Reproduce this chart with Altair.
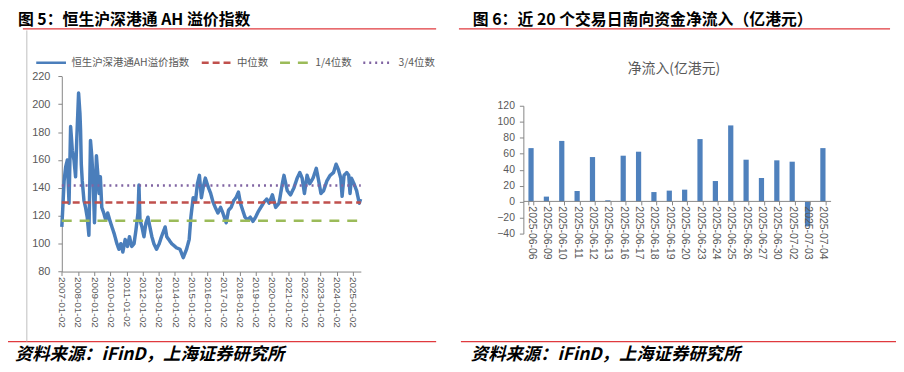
import altair as alt
import pandas as pd

# ---------------- data ----------------
line_name = "恒生沪深港通AH溢价指数"
ah_dates = [
    "2007-01-02", "2007-01-28", "2007-02-23", "2007-03-30", "2007-05-07", "2007-06-14",
    "2007-07-20", "2007-08-27", "2007-10-04", "2007-11-09", "2007-12-06", "2008-01-16",
    "2008-02-16", "2008-03-01", "2008-03-17", "2008-04-08", "2008-05-16", "2008-06-21",
    "2008-07-29", "2008-09-05", "2008-10-11", "2008-11-11", "2008-12-10", "2009-01-09",
    "2009-02-22", "2009-03-25", "2009-04-23", "2009-05-22", "2009-06-23", "2009-08-06",
    "2009-09-20", "2009-11-04", "2009-12-19", "2010-02-08", "2010-04-01", "2010-05-31",
    "2010-07-15", "2010-08-28", "2010-10-12", "2010-12-03", "2011-01-26", "2011-03-11",
    "2011-05-01", "2011-06-22", "2011-08-05", "2011-09-19", "2011-10-11", "2011-11-03",
    "2011-12-18", "2012-02-01", "2012-03-17", "2012-05-01", "2012-06-14", "2012-07-29",
    "2012-09-12", "2012-11-11", "2013-01-11", "2013-03-03", "2013-05-25", "2013-06-30",
    "2013-10-19", "2014-02-08", "2014-04-25", "2014-07-08", "2014-09-20", "2014-11-19",
    "2014-12-27", "2015-02-17", "2015-04-09", "2015-05-24", "2015-07-08", "2015-08-22",
    "2015-10-05", "2015-11-19", "2016-01-18", "2016-03-19", "2016-05-09", "2016-06-30",
    "2016-08-29", "2016-10-28", "2016-12-19", "2017-03-04", "2017-04-26", "2017-06-23",
    "2017-08-23", "2017-10-13", "2017-12-06", "2018-01-20", "2018-03-12", "2018-05-03",
    "2018-07-02", "2018-08-31", "2018-10-29", "2018-12-28", "2019-02-26", "2019-04-25",
    "2019-07-11", "2019-09-07", "2019-10-30", "2020-01-12", "2020-03-26", "2020-06-10",
    "2020-08-23", "2020-09-30", "2020-12-13", "2021-02-25", "2021-05-12", "2021-07-25",
    "2021-09-23", "2021-11-14", "2022-01-05", "2022-03-06", "2022-05-05", "2022-07-18",
    "2022-09-30", "2022-11-23", "2023-01-13", "2023-03-14", "2023-05-27", "2023-08-09",
    "2023-10-24", "2023-12-21", "2024-02-13", "2024-04-05", "2024-05-05", "2024-06-18",
    "2024-08-18", "2024-10-02", "2024-10-31", "2024-12-01", "2025-01-28", "2025-03-29",
    "2025-05-28", "2025-06-27",
]
ah_values = [
    112, 128, 145, 155, 160, 129,
    184, 167, 160, 148, 175, 208,
    193, 181, 157, 145, 131, 126,
    119, 106, 174, 162, 145, 115,
    163, 150, 136, 148, 126, 122,
    117, 122, 117, 112, 107, 100,
    96, 100, 94, 103, 98, 105,
    98, 100, 110, 122, 142, 117,
    112, 105, 115, 119, 112, 105,
    100, 96, 100, 105, 112, 105,
    100, 97, 96, 90, 96, 103,
    119, 133, 130, 143, 149, 133,
    141, 147, 141, 136, 130, 126,
    122, 126, 122, 115, 124, 126,
    131, 133, 137, 129, 124, 119,
    117, 119, 116, 119, 123, 126,
    130, 132, 129, 135, 126, 129,
    143, 149, 138, 135, 140, 147,
    151, 147, 136, 149, 143, 147,
    154, 145, 136, 138, 145, 149,
    151, 157, 153, 147, 134, 149,
    151, 149, 136, 147, 143, 138,
    129, 132,
]
q_names = ["中位数", "1/4位数", "3/4位数"]
q_values = [129.5, 116.5, 141.7]
year_ticks = list(range(2007, 2026))
left_y_ticks = [80, 100, 120, 140, 160, 180, 200, 220]

flow_dates = [
    "2025-06-06", "2025-06-09", "2025-06-10", "2025-06-11", "2025-06-12",
    "2025-06-13", "2025-06-16", "2025-06-17", "2025-06-18", "2025-06-19",
    "2025-06-20", "2025-06-23", "2025-06-24", "2025-06-25", "2025-06-26",
    "2025-06-27", "2025-06-30", "2025-07-02", "2025-07-03", "2025-07-04",
]
flow_values = [67, 6.3, 76, 13.3, 55.8, 1.7, 57.5, 62.5, 12, 13.8,
               15, 78.3, 25.8, 95.4, 52.5, 29.6, 51.7, 50, -31, 67]
right_y_ticks = [-40, -20, 0, 20, 40, 60, 80, 100, 120]

title_left = "图 5：恒生沪深港通 AH 溢价指数"
title_right = "图 6：近 20 个交易日南向资金净流入（亿港元）"
sub_right = "净流入(亿港元)"
source_text = "资料来源：iFinD，上海证券研究所"

# ---------------- style ----------------
W, H = 896, 364
CJK = "Noto Sans CJK SC"
LAT = "Liberation Sans"
LBL = "#595959"
AXC = "#868686"
RED = "#E03A3E"
series_order = [line_name] + q_names
colors = ["#4A7EBB", "#C0504D", "#9BBB59", "#8064A2"]
dashes = [[1, 0], [7, 4], [10, 8], [2, 4]]

ah_df = pd.DataFrame({"date": ah_dates, "value": ah_values, "series": line_name})
q_df = pd.DataFrame({"series": q_names, "value": q_values,
                     "start": "2007-01-02", "end": "2025-07-01"})
flow_df = pd.DataFrame({"day": flow_dates, "flow": flow_values})

legend = alt.Legend(title=None, orient="none", legendX=27, legendY=37,
                    direction="horizontal", symbolType="stroke", symbolSize=900,
                    symbolStrokeWidth=2.5, labelFont=CJK, labelFontSize=10.5,
                    labelColor=LBL, labelOffset=4, columnPadding=6, padding=0)
color_enc = alt.Color("series:N", scale=alt.Scale(domain=series_order, range=colors),
                      legend=legend)
dash_enc = alt.StrokeDash("series:N", scale=alt.Scale(domain=series_order, range=dashes),
                          legend=legend)

x_left = alt.X(
    "date:T",
    scale=alt.Scale(type="utc",
                    domain=[alt.DateTime(year=2007, month=1, date=2, utc=True),
                            alt.DateTime(year=2025, month=7, date=2, utc=True)],
                    range=[54.3, 356]),
    axis=alt.Axis(orient="bottom", offset=264.3 - H, title=None,
                  values=[alt.DateTime(year=y, month=1, date=2, utc=True) for y in year_ticks],
                  labelExpr="utcFormat(datum.value, '%Y-%m-%d')",
                  labelAngle=90, labelFont=LAT, labelFontSize=10, labelColor=LBL,
                  labelPadding=1, tickSize=4, tickColor=AXC, domainColor=AXC,
                  grid=False, labelOverlap=False, labelFlush=False),
)
y_left = alt.Y(
    "value:Q",
    scale=alt.Scale(domain=[80, 220], range=[264.3, 67.3], nice=False, zero=False),
    axis=alt.Axis(orient="left", offset=-54.3, title=None, values=left_y_ticks,
                  labelFont=LAT, labelFontSize=11, labelColor=LBL, labelPadding=8,
                  tickSize=4, tickColor=AXC, domainColor=AXC, grid=False),
)

line = alt.Chart(ah_df).mark_line(strokeWidth=3.5, strokeJoin="round").encode(
    x=x_left, y=y_left, color=color_enc, strokeDash=dash_enc)
rules = alt.Chart(q_df).mark_rule(strokeWidth=2.5).encode(
    x=alt.X("start:T"), x2="end:T", y=alt.Y("value:Q"),
    color=color_enc, strokeDash=dash_enc)
left = alt.layer(line, rules)

bars = alt.Chart(flow_df).mark_bar(color="#4F81BD").encode(
    x=alt.X("day:N", sort=None,
            scale=alt.Scale(range=[520, 830], paddingInner=0.66, paddingOuter=0.33),
            axis=alt.Axis(orient="bottom", offset=193 - H, title=None, labelAngle=90,
                          labelFont=LAT, labelFontSize=10.5, labelColor=LBL,
                          labelPadding=1, tickSize=4, tickBand="extent",
                          tickColor=AXC, domainColor=AXC, grid=False, zindex=1,
                          labelOverlap=False)),
    y=alt.Y("flow:Q",
            scale=alt.Scale(domain=[-40, 120], range=[226, 97], nice=False),
            axis=alt.Axis(orient="left", offset=-520, title=None, values=right_y_ticks,
                          labelFont=LAT, labelFontSize=10.5, labelColor=LBL,
                          labelPadding=5, tickSize=4, tickColor=AXC,
                          domainColor=AXC, grid=False)),
    y2=alt.datum(0),
)

one = pd.DataFrame({"k": [0]})
texts = pd.DataFrame({
    "txt": [title_left, title_right, sub_right, source_text, source_text],
})


def txt(i, x, y, size, weight="normal", style="normal", color="black", align="left"):
    return alt.Chart(texts.iloc[[i]]).mark_text(
        font=CJK, fontSize=size, fontWeight=weight, fontStyle=style, color=color,
        align=align, baseline="middle").encode(
        text="txt:N", x=alt.value(x), y=alt.value(y))


def hrule(x1, x2, y, color=RED, w=1.3):
    return alt.Chart(one).mark_rule(color=color, strokeWidth=w).encode(
        x=alt.value(x1), x2=alt.value(x2), y=alt.value(y))


deco = [
    hrule(15, 432, 19.5), hrule(455, 890, 19.5),
    hrule(0, 432, 335), hrule(457, 896, 335),
    alt.Chart(one).mark_rule(color="#BFBFBF", strokeWidth=1).encode(
        x=alt.value(19), y=alt.value(21), y2=alt.value(335)),
    txt(0, 10, 10.5, 16, weight="bold"),
    txt(1, 469, 10.5, 16, weight="bold"),
    txt(2, 672, 60, 14, color=LBL, align="center"),
    txt(3, 7, 349, 17.5, weight="bold", style="italic"),
    txt(4, 467, 349, 17.5, weight="bold", style="italic"),
]

chart = alt.layer(left, bars, *deco).resolve_scale(
    x="independent", y="independent"
).properties(
    width=W, height=H, padding=0,
    autosize=alt.AutoSizeParams(type="none"),
).configure_view(strokeWidth=0)

chart.save("out.html", embed_options={"renderer": "svg", "actions": False})
